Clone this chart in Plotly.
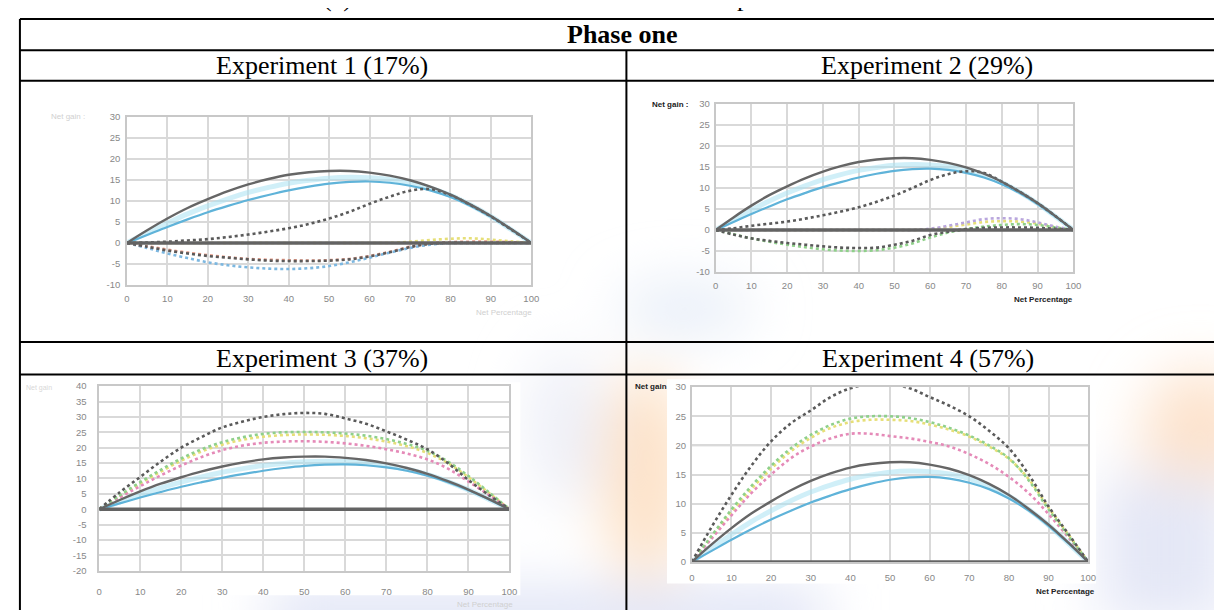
import base64
import plotly.graph_objects as go

W, H = 1222, 610

# ---------------- data ----------------
net_percentage = [0, 5, 10, 15, 20, 25, 30, 35, 40, 45, 50, 55, 60, 65, 70, 75, 80, 85, 90, 95, 100]

baseline_zero = [0, 0, 0, 0, 0, 0, 0, 0, 0, 0, 0, 0, 0, 0, 0, 0, 0, 0, 0, 0, 0]
optimal_gain = [0, 3.0, 5.8, 8.3, 10.4, 12.3, 13.9, 15.2, 16.2, 16.8, 17.1, 17.1, 16.7, 16.0, 14.9, 13.4, 11.5, 9.1, 6.4, 3.3, 0]
blue_gain = [0, 1.9, 3.8, 5.6, 7.3, 8.8, 10.2, 11.4, 12.5, 13.4, 14.1, 14.5, 14.6, 14.3, 13.6, 12.5, 10.9, 8.8, 6.2, 3.2, 0]
pale_gain = [0, 2.4, 4.7, 6.9, 8.8, 10.5, 12.0, 13.2, 14.2, 14.9, 15.4, 15.6, 15.5, 15.1, 14.3, 13.0, 11.3, 9.0, 6.3, 3.2, 0]

exp1_dark_dotted = [0, 0.1, 0.3, 0.6, 0.9, 1.4, 2.0, 2.7, 3.5, 4.5, 5.8, 7.4, 9.3, 11.0, 12.4, 12.8, 11.4, 9.0, 6.3, 3.2, 0]
exp1_red_dotted = [0, -0.8, -1.6, -2.3, -2.9, -3.4, -3.8, -4.0, -4.1, -4.2, -4.1, -3.8, -3.1, -2.1, -0.9, -0.1, 0.2, 0.3, 0.3, 0.2, 0]
exp1_gray_dotted = [0, -0.9, -1.8, -2.5, -3.1, -3.5, -3.9, -4.2, -4.3, -4.3, -4.2, -3.9, -3.2, -2.2, -1.0, -0.2, 0, 0, 0, 0, 0]
exp1_blue_dotted = [0, -1.2, -2.5, -3.6, -4.6, -5.3, -5.8, -6.1, -6.2, -6.0, -5.5, -4.6, -3.5, -2.3, -1.2, -0.4, 0, 0, 0, 0, 0]
exp1_yellow_dotted = [0, 0, 0, 0, 0, 0, 0, 0, 0, 0, 0, 0, 0, 0, 0.3, 0.7, 1.0, 1.1, 0.8, 0.4, 0]

exp2_dark_dotted = [0, 0.4, 1.0, 1.5, 2.0, 2.7, 3.5, 4.4, 5.4, 6.7, 8.2, 10.0, 11.9, 13.3, 14.0, 13.6, 11.5, 9.1, 6.4, 3.3, 0]
exp2_gray_dotted = [0, -1.1, -2.0, -2.6, -3.1, -3.5, -3.9, -4.2, -4.3, -4.2, -3.5, -2.6, -1.2, -0.4, 0.2, 0.5, 0.6, 0.6, 0.5, 0.3, 0]
exp2_green_dotted = [0, -1.0, -2.0, -2.8, -3.5, -4.1, -4.6, -4.9, -5.0, -4.8, -4.2, -3.2, -1.8, -0.6, 0.2, 0.8, 1.2, 1.4, 1.2, 0.6, 0]
exp2_purple_dotted = [0, 0, 0, 0, 0, 0, 0, 0, 0, 0, 0, 0, 0.3, 1.0, 1.8, 2.6, 2.8, 2.6, 1.8, 0.8, 0]
exp2_yellow_dotted = [0, 0, 0, 0, 0, 0, 0, 0, 0, 0, 0, 0, 0.2, 0.7, 1.3, 1.9, 2.1, 2.0, 1.5, 0.7, 0]

exp3_dark_dotted = [0, 5.5, 10.5, 15.5, 20.0, 23.5, 26.6, 28.5, 30.0, 30.9, 31.3, 31.0, 29.5, 27.8, 25.3, 22.6, 19.5, 15.0, 9.5, 4.6, 0]
exp3_green_dotted = [0, 4.5, 8.8, 12.8, 16.5, 19.5, 21.8, 23.4, 24.5, 25.0, 25.1, 25.0, 24.6, 23.9, 22.8, 21.2, 19.0, 15.5, 10.8, 5.5, 0]
exp3_yellow_dotted = [0, 4.2, 8.4, 12.2, 15.8, 18.8, 21.0, 22.6, 23.6, 24.1, 24.3, 24.2, 23.8, 23.1, 22.0, 20.5, 18.3, 15.0, 10.4, 5.3, 0]
exp3_pink_dotted = [0, 3.8, 7.5, 11.0, 14.2, 17.0, 19.2, 20.7, 21.6, 22.0, 22.1, 21.9, 21.4, 20.6, 19.5, 18.1, 16.2, 13.2, 9.0, 4.6, 0]

exp4_dark_dotted = [0, 6.0, 11.5, 16.5, 20.7, 23.8, 26.0, 28.3, 29.8, 30.5, 30.5, 29.8, 28.3, 26.8, 25.0, 22.5, 19.5, 15.0, 9.5, 4.8, 0]
exp4_green_dotted = [0, 4.5, 9.0, 13.0, 16.5, 19.5, 21.8, 23.5, 24.6, 25.0, 25.0, 24.7, 24.0, 23.0, 21.7, 20.0, 17.8, 14.0, 9.0, 4.5, 0]
exp4_yellow_dotted = [0, 4.3, 8.6, 12.5, 16.0, 19.0, 21.3, 23.0, 24.0, 24.4, 24.4, 24.2, 23.6, 22.7, 21.5, 19.8, 17.7, 14.2, 9.3, 4.7, 0]
exp4_pink_dotted = [0, 4.0, 8.0, 11.8, 15.0, 17.8, 19.8, 21.2, 22.0, 22.0, 21.6, 21.2, 20.6, 19.8, 18.5, 16.8, 14.6, 11.8, 8.2, 4.2, 0]

x_tick_labels = ["0", "10", "20", "30", "40", "50", "60", "70", "80", "90", "100"]
x_tick_values = [0, 10, 20, 30, 40, 50, 60, 70, 80, 90, 100]

table_title = "Phase one"
experiment_titles = ["Experiment 1 (17%)", "Experiment 2 (29%)", "Experiment 3 (37%)", "Experiment 4 (57%)"]
caption_fragment = "(a) The net benefit curves of the four experiments in the first round"

# ---------------- colours ----------------
C_DARK = "#666666"
C_DARK_DOT = "#5a5a5a"
C_BLUE = "#5fb3d9"
C_PALE = "rgba(170,225,243,0.55)"
C_GREEN = "#8fd08a"
C_YELLOW = "#e6df78"
C_PINK = "#e58ab8"
C_RED = "#e79a86"
C_BLUEDOT = "#7cb7e0"
C_PURPLE = "#b9a6dd"
C_GRID = "#d9d9d9"
C_TICK = "#888888"

fig = go.Figure()

charts = [
    dict(ax="", x0=117, x1=525, ytop=104.6, ybot=276, yr=[-10, 30], ytl=3, xtl=4, mark20=True),
    dict(ax="2", x0=711, x1=1072, ytop=91.7, ybot=262.7, yr=[-10, 30], ytl=2, xtl=4, mark20=True),
    dict(ax="3", x0=89, x1=503, ytop=379, ybot=567, yr=[-20, 40], ytl=9, xtl=11, mark20=False),
    dict(ax="4", x0=687, x1=1087, ytop=380, ybot=558, yr=[0, 30], ytl=2, xtl=6, mark20=True),
]

series_sets = [
    [
        (exp1_yellow_dotted, C_YELLOW),
        (exp1_blue_dotted, C_BLUEDOT),
        (exp1_red_dotted, C_RED),
        (exp1_gray_dotted, C_DARK_DOT),
        (exp1_dark_dotted, C_DARK_DOT),
    ],
    [
        (exp2_yellow_dotted, C_YELLOW),
        (exp2_purple_dotted, C_PURPLE),
        (exp2_green_dotted, C_GREEN),
        (exp2_gray_dotted, C_DARK_DOT),
        (exp2_dark_dotted, C_DARK_DOT),
    ],
    [
        (exp3_yellow_dotted, C_YELLOW),
        (exp3_pink_dotted, C_PINK),
        (exp3_green_dotted, C_GREEN),
        (exp3_dark_dotted, C_DARK_DOT),
    ],
    [
        (exp4_yellow_dotted, C_YELLOW),
        (exp4_pink_dotted, C_PINK),
        (exp4_green_dotted, C_GREEN),
        (exp4_dark_dotted, C_DARK_DOT),
    ],
]

shapes = []
layout_axes = {}
for ch, sset in zip(charts, series_sets):
    xa = "x" + ch["ax"]
    ya = "y" + ch["ax"]
    common = dict(xaxis=xa, yaxis=ya, mode="lines", hoverinfo="skip", showlegend=False)
    fig.add_trace(go.Scatter(x=net_percentage, y=pale_gain, line=dict(color=C_PALE, width=5, shape="spline"), **common))
    fig.add_trace(go.Scatter(x=net_percentage, y=blue_gain, line=dict(color=C_BLUE, width=2.2, shape="spline"), **common))
    for vals, col in sset:
        fig.add_trace(go.Scatter(x=net_percentage, y=vals,
                                 line=dict(color=col, width=2.6, dash="3px,3px", shape="spline"), **common))
    fig.add_trace(go.Scatter(x=net_percentage, y=optimal_gain, line=dict(color=C_DARK, width=2.4, shape="spline"), **common))
    fig.add_trace(go.Scatter(x=net_percentage, y=baseline_zero, line=dict(color="#636363", width=3.4), **common))

    if ch["mark20"]:
        shapes.append(dict(type="line", xref=xa, yref=ya, x0=0, x1=100, y0=20, y1=20,
                           line=dict(color="#c4c4c4", width=1.6), layer="below"))

    xdom = [ch["x0"] / W, ch["x1"] / W]
    ydom = [1 - ch["ybot"] / H, 1 - ch["ytop"] / H]
    yr = ch["yr"]
    yticks = list(range(yr[0], yr[1] + 1, 5))
    xkey = "xaxis" + ch["ax"]
    ykey = "yaxis" + ch["ax"]
    layout_axes[xkey] = dict(
        domain=xdom, range=[0, 100], anchor=ya, tickmode="array", tickvals=x_tick_values,
        ticktext=x_tick_labels, showgrid=True, gridcolor=C_GRID, gridwidth=1.6,
        zeroline=False, showline=True, mirror=True, linecolor="#c8c8c8", linewidth=1.6,
        ticks="outside", ticklen=ch["xtl"], tickcolor="rgba(0,0,0,0)",
        tickfont=dict(family="Arial, Liberation Sans", size=9.5, color=C_TICK), fixedrange=True,
    )
    layout_axes[ykey] = dict(
        domain=ydom, range=yr, anchor=xa, tickmode="array", tickvals=yticks,
        ticktext=[str(v) for v in yticks], showgrid=True, gridcolor=C_GRID, gridwidth=1.6,
        zeroline=False, showline=True, mirror=True, linecolor="#c8c8c8", linewidth=1.6,
        ticks="outside", ticklen=ch["ytl"], tickcolor="rgba(0,0,0,0)",
        tickfont=dict(family="Arial, Liberation Sans", size=9.5, color=C_TICK), fixedrange=True,
    )

# ---------------- background watermark ----------------
svg = """<svg xmlns="http://www.w3.org/2000/svg" width="1222" height="610" viewBox="0 0 1222 610">
<defs><filter id="b" x="-50%" y="-50%" width="200%" height="200%"><feGaussianBlur stdDeviation="28"/></filter></defs>
<g filter="url(#b)">
<rect x="260" y="585" width="560" height="60" fill="#dfe3f5"/>
<ellipse cx="640" cy="470" rx="45" ry="110" fill="#fde2c8"/>
<ellipse cx="1200" cy="430" rx="60" ry="70" fill="#fde3cd"/>
<rect x="1100" y="470" width="130" height="150" fill="#e4e7f6"/>
<ellipse cx="680" cy="300" rx="70" ry="25" fill="#e5ecf7"/>
<ellipse cx="560" cy="420" rx="40" ry="80" fill="#eef0f8"/>
</g></svg>"""
svg_uri = "data:image/svg+xml;base64," + base64.b64encode(svg.encode()).decode()

images = [dict(source=svg_uri, xref="paper", yref="paper", x=0, y=1, sizex=1, sizey=1,
               sizing="stretch", xanchor="left", yanchor="top", layer="below")]

# ---------------- shapes ----------------
def rect_paper(x0, y0, x1, y1, **kw):
    return dict(type="rect", xref="paper", yref="paper", x0=x0 / W, x1=x1 / W,
                y0=1 - y1 / H, y1=1 - y0 / H, **kw)

def line_paper(x0, y0, x1, y1, **kw):
    return dict(type="line", xref="paper", yref="paper", x0=x0 / W, x1=x1 / W,
                y0=1 - y0 / H, y1=1 - y1 / H, **kw)

shapes = [
    rect_paper(60, 375, 514, 592, fillcolor="white", line=dict(width=0), layer="below"),
    rect_paper(662, 372, 1095, 580, fillcolor="white", line=dict(width=0), layer="below"),
] + shapes
BL = dict(color="black", width=2)
TABLE_L, TABLE_R, DIV = 9, 1228, 621
for yy in [5, 37, 68, 334, 367]:
    shapes.append(line_paper(TABLE_L, yy, TABLE_R, yy, line=BL))
shapes.append(line_paper(TABLE_L, 5, TABLE_L, 615, line=BL))
shapes.append(line_paper(DIV, 37, DIV, 615, line=BL))

# ---------------- annotations ----------------
def ann(text, x, y, size, color="black", bold=False, family="Liberation Serif", xanchor="center", yanchor="middle"):
    t = "<b>%s</b>" % text if bold else text
    return dict(text=t, x=x / W, y=1 - y / H, xref="paper", yref="paper", showarrow=False,
                xanchor=xanchor, yanchor=yanchor, font=dict(family=family, size=size, color=color))

annotations = [
    ann(caption_fragment, 313, -17, 26, xanchor="left"),
    ann(table_title, 617, 21, 26, bold=True),
    ann(experiment_titles[0], 314, 52, 26),
    ann(experiment_titles[1], 924, 52, 26),
    ann(experiment_titles[2], 314, 351, 26),
    ann(experiment_titles[3], 925, 351, 26),
    ann("Net gain :", 665, 92, 8, color="#222", bold=True, family="Arial"),
    ann("Net Percentage", 1042, 291, 8, color="#222", bold=True, family="Arial"),
    ann("Net gain", 646, 379, 8, color="#222", bold=True, family="Arial"),
    ann("Net Percentage", 1064, 588, 8, color="#222", bold=True, family="Arial"),
    ann("Net gain :", 58, 104, 8, color="#d0d0d0", family="Arial"),
    ann("Net Percentage", 497, 304, 8, color="#d0d0d0", family="Arial"),
    ann("Net gain", 28, 381, 7, color="#d8d8d8", family="Arial"),
    ann("Net Percentage", 478, 601, 8, color="#d0d0d0", family="Arial"),
]

fig.update_layout(
    width=W, height=H, margin=dict(l=0, r=0, t=0, b=0),
    paper_bgcolor="white", plot_bgcolor="rgba(0,0,0,0)",
    shapes=shapes, annotations=annotations, images=images,
    showlegend=False, **layout_axes,
)

fig.write_html("out.html", config={"displayModeBar": False})
